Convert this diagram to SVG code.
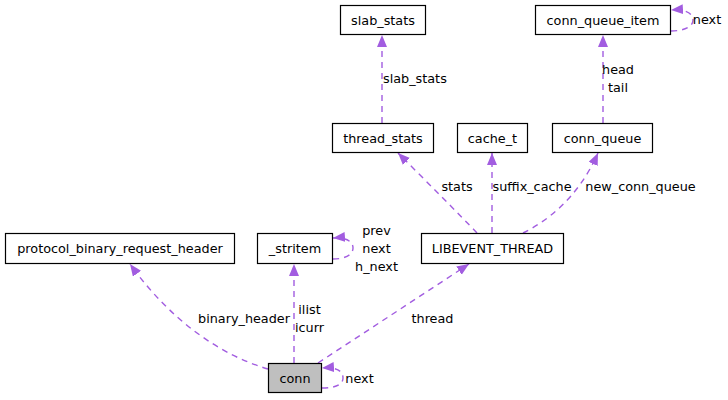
<svg xmlns="http://www.w3.org/2000/svg" width="728" height="400" viewBox="0 0 728 400">
<style>
  .node rect { fill: #ffffff; stroke: #000000; stroke-width: 1.2; }
  .node.main rect { fill: #bfbfbf; }
  text { font-family: "DejaVu Sans", "Liberation Sans", sans-serif; font-size: 12.8px; fill: #000000; }
  .node text { text-anchor: middle; }
  .edge { fill: none; stroke: #a25de0; stroke-width: 1.4; stroke-dasharray: 6 5; }
  .lbl { text-anchor: middle; }
</style>
<defs>
  <marker id="arr" markerUnits="userSpaceOnUse" markerWidth="14" markerHeight="11" refX="12" refY="5" orient="auto">
    <path d="M0,0 L12,5 L0,10 z" fill="#a25de0" stroke="none"/>
  </marker>
</defs>
<rect width="728" height="400" fill="#ffffff"/>

<g id="connectors">
  <path class="edge" d="M382,123 L382,35" marker-end="url(#arr)"/>
  <path class="edge" d="M603,123 L603,35" marker-end="url(#arr)"/>
  <path class="edge" d="M671,31 C684,31 693,27 693,20 C693,13 685,9 671,10" marker-end="url(#arr)"/>
  <path class="edge" d="M477,233 C460,215 425,180 398,153" marker-end="url(#arr)"/>
  <path class="edge" d="M492,233 L492,153" marker-end="url(#arr)"/>
  <path class="edge" d="M523,233 C545,222 577,200 598,153" marker-end="url(#arr)"/>
  <path class="edge" d="M268,369 C220,355 170,320 130,264" marker-end="url(#arr)"/>
  <path class="edge" d="M294,363 L294,264" marker-end="url(#arr)"/>
  <path class="edge" d="M333,259 C345,259 353,255 353,248 C353,241 345,237 333,238" marker-end="url(#arr)"/>
  <path class="edge" d="M318,363 L469,264" marker-end="url(#arr)"/>
  <path class="edge" d="M322,388 C335,388 343,385 343,378 C343,370 335,367 322,368" marker-end="url(#arr)"/>
</g>

<g id="edge-labels">
  <text x="383" y="82.5">slab_stats</text>
  <text class="lbl" x="618" y="74">head</text>
  <text class="lbl" x="618" y="92">tail</text>
  <text class="lbl" x="707" y="24">next</text>
  <text class="lbl" x="457" y="191">stats</text>
  <text class="lbl" x="532" y="191">suffix_cache</text>
  <text class="lbl" x="640.5" y="191">new_conn_queue</text>
  <text class="lbl" x="244" y="322.5">binary_header</text>
  <text class="lbl" x="309.5" y="313.5">ilist</text>
  <text class="lbl" x="309.5" y="331.5">icurr</text>
  <text class="lbl" x="376.5" y="234.5">prev</text>
  <text class="lbl" x="376.5" y="252.5">next</text>
  <text class="lbl" x="376.5" y="270.5">h_next</text>
  <text class="lbl" x="432.5" y="322.5">thread</text>
  <text class="lbl" x="359.5" y="382.5">next</text>
</g>

<g id="slab_stats" class="node">
  <rect x="340.5" y="5.5" width="85" height="29"/>
  <text x="383" y="24.5">slab_stats</text>
</g>
<g id="conn_queue_item" class="node">
  <rect x="535.5" y="5.5" width="135" height="29"/>
  <text x="603" y="24.5">conn_queue_item</text>
</g>
<g id="thread_stats" class="node">
  <rect x="332.5" y="123.5" width="101" height="29"/>
  <text x="383" y="142.5">thread_stats</text>
</g>
<g id="cache_t" class="node">
  <rect x="457.5" y="123.5" width="70" height="29"/>
  <text x="492.5" y="142.5">cache_t</text>
</g>
<g id="conn_queue" class="node">
  <rect x="552.5" y="123.5" width="100" height="29"/>
  <text x="602.5" y="142.5">conn_queue</text>
</g>
<g id="protocol_binary_request_header" class="node">
  <rect x="5.5" y="233.5" width="229" height="30"/>
  <text x="120" y="253">protocol_binary_request_header</text>
</g>
<g id="_stritem" class="node">
  <rect x="257.5" y="233.5" width="75" height="30"/>
  <text x="295" y="253">_stritem</text>
</g>
<g id="LIBEVENT_THREAD" class="node">
  <rect x="421.5" y="233.5" width="142" height="30"/>
  <text x="492.5" y="253">LIBEVENT_THREAD</text>
</g>
<g id="conn" class="node main">
  <rect x="268.5" y="363.5" width="53" height="29"/>
  <text x="295" y="382.5">conn</text>
</g>
</svg>
